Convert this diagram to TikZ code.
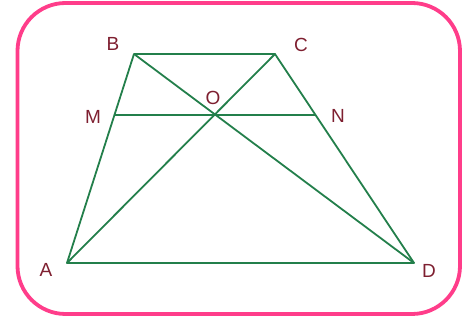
\documentclass[tikz,border=0pt]{standalone}
\usepackage{fontspec}
\setmainfont{Liberation Sans}
\definecolor{frame}{HTML}{FF3D8A}
\definecolor{geo}{HTML}{237F4B}
\definecolor{lab}{HTML}{7E1F30}
\begin{document}
\begin{tikzpicture}[x=1pt,y=-1pt,
  edge/.style={draw=geo,line width=1.8pt,line join=round},
  lbl/.style={text=lab,font=\fontsize{19}{19}\selectfont,inner sep=0pt}]
\useasboundingbox (0,0) rectangle (475,323);
\draw[frame,line width=3.8pt,rounded corners=48pt] (17.5,3) rectangle (460,314);
\coordinate (A) at (67,263);
\coordinate (B) at (134,54);
\coordinate (C) at (275,54);
\coordinate (D) at (414,263);
\coordinate (O) at (intersection of A--C and B--D);
\coordinate (M) at (114.4,115);
\coordinate (N) at (315.6,115);
\draw[edge] (A) -- (B) -- (C) -- (D) -- cycle;
\draw[edge] (A) -- (C);
\draw[edge] (B) -- (D);
\draw[edge] (M) -- (N);
\node[lbl] (lA) at (46,270) {A};
\node[lbl] (lB) at (113,44) {B};
\node[lbl] (lC) at (301,45) {C};
\node[lbl] (lD) at (429,271) {D};
\node[lbl] (lM) at (93,117) {M};
\node[lbl] (lN) at (338,116) {N};
\node[lbl] (lO) at (213,98) {O};
\end{tikzpicture}
\end{document}
